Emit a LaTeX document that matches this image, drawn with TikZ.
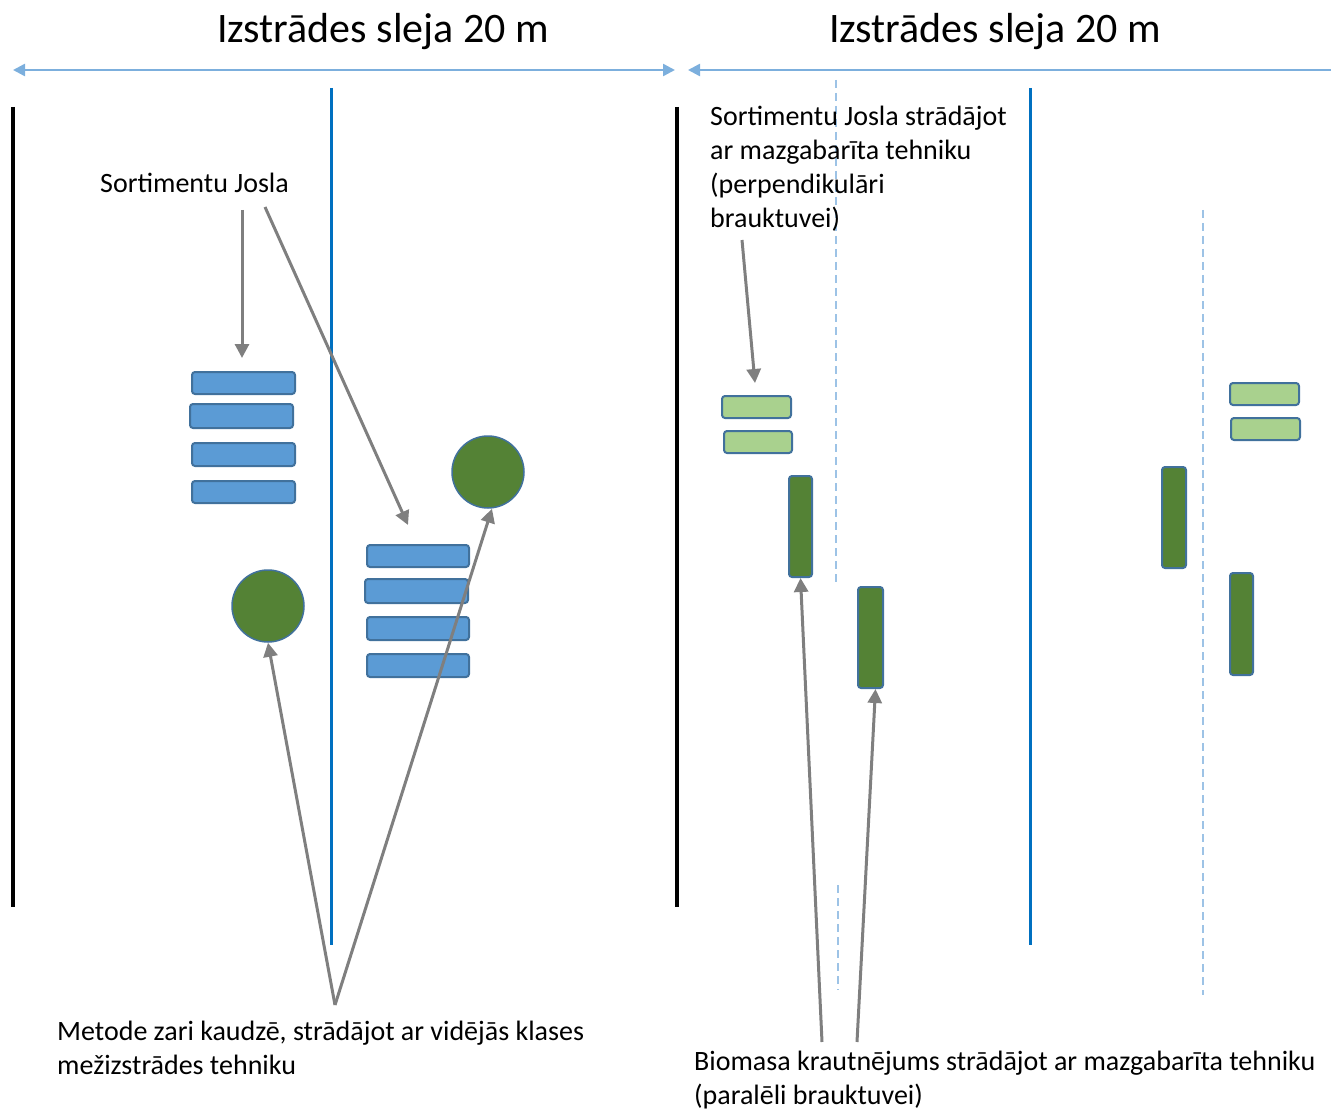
\documentclass[tikz,border=0pt]{standalone}
\usepackage{fontspec}
\setmainfont{Carlito}
\usetikzlibrary{arrows.meta}
\definecolor{boxblue}{HTML}{5B9BD5}
\definecolor{edgeblue}{HTML}{41719C}
\definecolor{darkgreen}{HTML}{548235}
\definecolor{lightgreen}{HTML}{A9D18E}
\definecolor{lineblue}{HTML}{0070C0}
\definecolor{dimblue}{HTML}{9DC3E6}
\definecolor{arrgray}{HTML}{7F7F7F}
\tikzset{
  pile/.style={draw=edgeblue, line width=2pt, fill=boxblue, rounded corners=3pt},
  lpile/.style={draw=edgeblue, line width=2pt, fill=lightgreen, rounded corners=3pt},
  dpile/.style={draw=edgeblue, line width=2pt, fill=darkgreen, rounded corners=3pt},
  heap/.style={circle, draw=edgeblue, line width=1.5pt, fill=darkgreen, minimum size=72pt, inner sep=0pt},
  ptr/.style={draw=arrgray, line width=3pt, -{Triangle[length=14pt,width=14pt]}},
  span/.style={draw=boxblue!80, line width=2.5pt},
  lbl/.style={font=\fontsize{28}{34}\selectfont, align=left, inner sep=0pt},
  ttl/.style={font=\fontsize{42}{44}\selectfont, inner sep=0pt},
  rail/.style={line width=4pt, black},
  road/.style={line width=3pt, lineblue},
  track/.style={line width=1.5pt, dimblue, dash pattern=on 8pt off 5pt}
}
\begin{document}
\begin{tikzpicture}[x=1pt,y=-1pt]
\useasboundingbox (0,0) rectangle (1331,1110);
% titles
\node[ttl] (t1) at (383,32) {Izstrādes sleja 20 m};
\node[ttl] (t2) at (995,32) {Izstrādes sleja 20 m};
\coordinate (a1l) at (13,70);
\coordinate (a1r) at (675,70);
\coordinate (a2l) at (688,70);
\coordinate (a2r) at (1331,70);
\draw[span, {Triangle[length=12pt,width=12pt]}-{Triangle[length=12pt,width=12pt]}] (a1l) -- (a1r);
\draw[span, {Triangle[length=12pt,width=12pt]}-] (a2l) -- (a2r);
% vertical lines
\draw[rail] (13,107) -- (13,907);
\draw[rail] (677,107) -- (677,907);
\draw[road] (331,88) -- (331,945);
\draw[road] (1030,88) -- (1030,945);
\draw[track] (836,80) -- (836,585);
\draw[track] (838,885) -- (838,990);
\draw[track] (1203,210) -- (1203,995);
% left stacks
\node[pile, minimum width=103pt, minimum height=22pt, inner sep=0pt] (s1) at (243.5,383) {};
\node[pile, minimum width=103pt, minimum height=24pt, inner sep=0pt] (s2) at (241.5,416) {};
\node[pile, minimum width=103pt, minimum height=23pt, inner sep=0pt] (s3) at (243.5,454.5) {};
\node[pile, minimum width=103pt, minimum height=22pt, inner sep=0pt] (s4) at (243.5,492) {};
\node[pile, minimum width=102pt, minimum height=22pt, inner sep=0pt] (s5) at (418,556) {};
\node[pile, minimum width=103pt, minimum height=24pt, inner sep=0pt] (s6) at (416.5,591) {};
\node[pile, minimum width=102pt, minimum height=23pt, inner sep=0pt] (s7) at (418,628.5) {};
\node[pile, minimum width=102pt, minimum height=23pt, inner sep=0pt] (s8) at (418,665.5) {};
\node[heap] (c1) at (268,606) {};
\node[heap] (c2) at (488,472) {};
% right piles
\node[lpile, minimum width=69pt, minimum height=22pt, inner sep=0pt] (g1) at (756.5,407) {};
\node[lpile, minimum width=68pt, minimum height=22pt, inner sep=0pt] (g2) at (758,442) {};
\node[lpile, minimum width=69pt, minimum height=22pt, inner sep=0pt] (g3) at (1264.5,394) {};
\node[lpile, minimum width=69pt, minimum height=22pt, inner sep=0pt] (g4) at (1265.5,429) {};
\node[dpile, minimum width=23pt, minimum height=101pt, inner sep=0pt] (d1) at (800.5,526.5) {};
\node[dpile, minimum width=25pt, minimum height=101pt, inner sep=0pt] (d2) at (870.5,637.5) {};
\node[dpile, minimum width=24pt, minimum height=101pt, inner sep=0pt] (d3) at (1174,517.5) {};
\node[dpile, minimum width=23pt, minimum height=102pt, inner sep=0pt] (d4) at (1241.5,624) {};
% labels
\node[lbl, anchor=west] (l1) at (100,183) {Sortimentu Josla};
\node[lbl, anchor=north west] (l2) at (57,1021) {Metode zari kaudzē, strādājot ar vidējās klases\\mežizstrādes tehniku};
\node[lbl, anchor=north west] (l3) at (710,106) {Sortimentu Josla strādājot\\ar mazgabarīta tehniku\\(perpendikulāri\\brauktuvei)};
\node[lbl, anchor=north west] (l4) at (694,1051) {Biomasa krautnējums strādājot ar mazgabarīta tehniku\\(paralēli brauktuvei)};
% connectors
\coordinate (p1) at (242,210);
\coordinate (p2) at (265,207);
\coordinate (q1) at (242,358);
\coordinate (q2) at (408,525);
\draw[ptr] (p1) -- (q1);
\draw[ptr] (p2) -- (q2);
\coordinate (p3) at (335,1005);
\draw[ptr] (p3) -- (c1.south);
\draw[ptr] (p3) -- ([xshift=4pt]c2.south);
\coordinate (p4) at (742,240);
\coordinate (q4) at (755,383);
\draw[ptr] (p4) -- (q4);
\coordinate (p5) at (822,1042);
\coordinate (p6) at (857,1042);
\draw[ptr] (p5) -- (d1.south);
\draw[ptr] (p6) -- ([xshift=5pt]d2.south);
\end{tikzpicture}
\end{document}
